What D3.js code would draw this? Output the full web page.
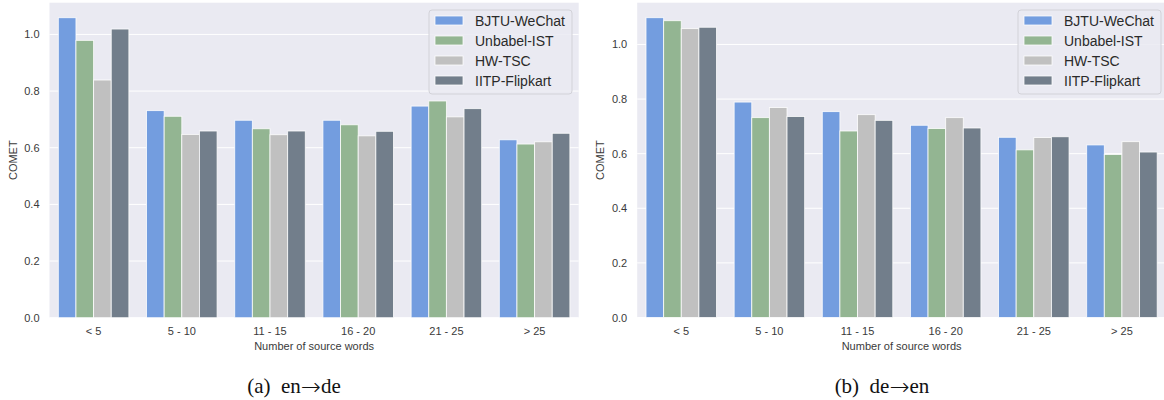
<!DOCTYPE html>
<html>
<head>
<meta charset="utf-8">
<script src="https://cdn.jsdelivr.net/npm/d3@7/dist/d3.min.js"></script>
<style>
  html, body { margin: 0; padding: 0; background: #ffffff; }
  svg { display: block; }
  .tick text { font-family: "Liberation Sans", Arial, sans-serif; }
</style>
</head>
<body>
<svg id="chart" width="1164" height="400"></svg>
<script>
// Sentence-length buckets on the x axis
const categories = ["< 5", "5 - 10", "11 - 15", "16 - 20", "21 - 25", "> 25"];
const systems = ["BJTU-WeChat", "Unbabel-IST", "HW-TSC", "IITP-Flipkart"];
const yTicks = [0.0, 0.2, 0.4, 0.6, 0.8, 1.0];

// COMET scores, en→de
const enDeBJTU     = [1.059, 0.731, 0.697, 0.697, 0.747, 0.628];
const enDeUnbabel  = [0.979, 0.711, 0.667, 0.681, 0.765, 0.613];
const enDeHWTSC    = [0.839, 0.647, 0.646, 0.642, 0.709, 0.621];
const enDeIITP     = [1.019, 0.659, 0.659, 0.658, 0.738, 0.651];

// COMET scores, de→en
const deEnBJTU     = [1.098, 0.789, 0.754, 0.704, 0.660, 0.632];
const deEnUnbabel  = [1.087, 0.732, 0.683, 0.692, 0.614, 0.597];
const deEnHWTSC    = [1.058, 0.769, 0.743, 0.732, 0.659, 0.644];
const deEnIITP     = [1.063, 0.736, 0.722, 0.694, 0.662, 0.606];

const colors = ["#739ddf", "#93b592", "#c0c0c0", "#727e8b"];

const svg = d3.select("#chart");
const sans = "'Liberation Sans', Arial, sans-serif";
const serif = "'Liberation Serif', 'Times New Roman', serif";

function drawPanel(cfg) {
  const { left, right, top, bottom, series, captionTag, captionFrom, captionTo, captionX } = cfg;
  const g = svg.append("g");

  const maxVal = d3.max(series.flat());
  const y = d3.scaleLinear().domain([0, maxVal * 1.05]).range([bottom, top]);
  const x0 = d3.scaleBand().domain(categories).range([left, right]).paddingInner(0.2).paddingOuter(0.1);
  const x1 = d3.scaleBand().domain(systems).range([0, x0.bandwidth()]);

  // plot background
  g.append("rect")
    .attr("x", left).attr("y", top)
    .attr("width", right - left).attr("height", bottom - top)
    .attr("fill", "#eaeaf2");

  // horizontal grid
  g.append("g").selectAll("line").data(yTicks).join("line")
    .attr("x1", left).attr("x2", right)
    .attr("y1", d => y(d)).attr("y2", d => y(d))
    .attr("stroke", "#ffffff").attr("stroke-width", 1);

  // bars
  const rows = categories.map((c, i) => systems.map((s, j) => ({ c, s, j, v: series[j][i] })));
  g.append("g").selectAll("g").data(rows).join("g")
    .attr("transform", d => `translate(${x0(d[0].c)},0)`)
    .selectAll("rect").data(d => d).join("rect")
    .attr("x", d => x1(d.s))
    .attr("width", x1.bandwidth())
    .attr("y", d => y(d.v))
    .attr("height", d => y(0) - y(d.v))
    .attr("fill", d => colors[d.j])
    .attr("stroke", "#ffffff").attr("stroke-opacity", 0.85).attr("stroke-width", 0.9);

  // y axis
  const yAxis = g.append("g")
    .attr("transform", `translate(${left},0)`)
    .call(d3.axisLeft(y).tickValues(yTicks).tickFormat(d3.format(".1f")).tickSize(0).tickPadding(10));
  yAxis.select(".domain").remove();
  yAxis.selectAll("text").attr("font-size", 11).attr("fill", "#3a3a3a").attr("font-family", sans);

  // x axis
  const xAxis = g.append("g")
    .attr("transform", `translate(0,${bottom})`)
    .call(d3.axisBottom(x0).tickSize(0).tickPadding(10));
  xAxis.select(".domain").remove();
  xAxis.selectAll("text").attr("font-size", 11).attr("fill", "#3a3a3a").attr("font-family", sans);

  // axis titles
  g.append("text")
    .attr("transform", `translate(${left - 33},${(top + bottom) / 2}) rotate(-90)`)
    .attr("text-anchor", "middle")
    .attr("font-family", sans).attr("font-size", 11).attr("fill", "#3a3a3a")
    .text("COMET");
  g.append("text")
    .attr("x", (left + Math.min(right, 1164 + 2)) / 2).attr("y", bottom + 32)
    .attr("text-anchor", "middle")
    .attr("font-family", sans).attr("font-size", 11).attr("fill", "#3a3a3a")
    .text("Number of source words");

  // legend
  const lg = g.append("g").attr("transform", `translate(${cfg.legendX},10)`);
  lg.append("rect")
    .attr("x", 0).attr("y", 0).attr("width", 143).attr("height", 84)
    .attr("rx", 3).attr("ry", 3)
    .attr("fill", "#eaeaf2").attr("fill-opacity", 0.85)
    .attr("stroke", "#d2d2d8").attr("stroke-width", 1);
  const items = lg.selectAll("g.item").data(systems).join("g")
    .attr("class", "item")
    .attr("transform", (d, i) => `translate(6,${6 + i * 20})`);
  items.append("rect")
    .attr("width", 28).attr("height", 9)
    .attr("fill", (d, i) => colors[i])
    .attr("stroke", "#ffffff").attr("stroke-opacity", 0.85).attr("stroke-width", 0.9);
  items.append("text")
    .attr("x", 40).attr("y", 9.8)
    .attr("font-family", sans).attr("font-size", 14).attr("fill", "#2a2a2a")
    .text(d => d);

  // caption: "(a)  en→de" with a long, thin math-style arrow
  const cap = svg.append("text")
    .attr("x", captionX).attr("y", 393)
    .attr("text-anchor", "middle")
    .attr("font-family", serif)
    .attr("font-size", 21).attr("fill", "#111")
    .attr("xml:space", "preserve");
  cap.append("tspan").text(captionTag + "  " + captionFrom);
  cap.append("tspan")
    .attr("font-family", "'DejaVu Sans', sans-serif")
    .attr("font-weight", 200)
    .attr("font-size", 24).attr("dy", 1.5)
    .text("→");
  cap.append("tspan").attr("dy", -1.5).text(captionTo);
}

drawPanel({
  left: 49.5, right: 578.7, top: 2.7, bottom: 317.7,
  series: [enDeBJTU, enDeUnbabel, enDeHWTSC, enDeIITP],
  legendX: 429, captionTag: "(a)", captionFrom: "en", captionTo: "de", captionX: 294
});

drawPanel({
  left: 637.2, right: 1166, top: 2.7, bottom: 317.5,
  series: [deEnBJTU, deEnUnbabel, deEnHWTSC, deEnIITP],
  legendX: 1018, captionTag: "(b)", captionFrom: "de", captionTo: "en", captionX: 882
});
</script>
</body>
</html>
